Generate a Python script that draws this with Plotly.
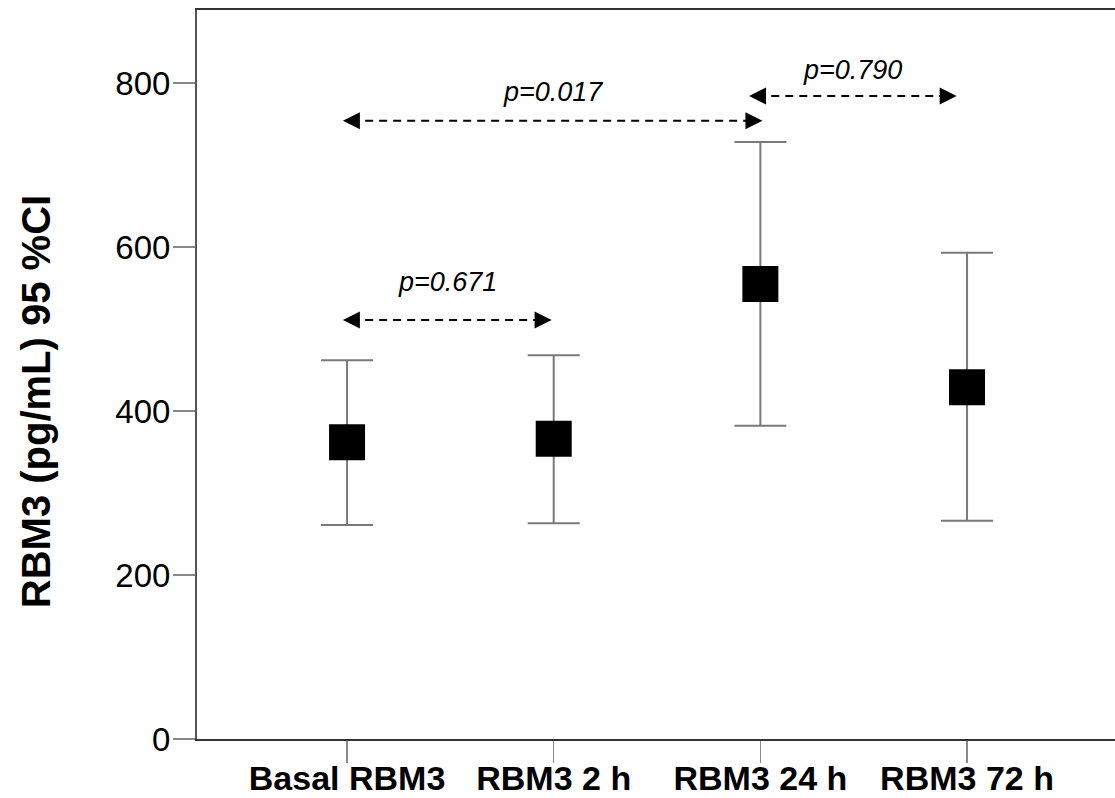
import plotly.graph_objects as go

# ---- data ----
categories = ["Basal RBM3", "RBM3 2 h", "RBM3 24 h", "RBM3 72 h"]
means = [362, 366, 555, 429]
ci_upper = [462, 468, 728, 593]
ci_lower = [261, 263, 382, 266]

# pairwise comparisons (category positions of arrow tips, level, label)
cmp_from = [-0.02, -0.02, 1.945]
cmp_to = [0.99, 2.01, 2.95]
cmp_level = [511, 754, 784]
cmp_label_level = [557, 789, 816]
cmp_labels = ["p=0.671", "p=0.017", "p=0.790"]

y_ticks = [0, 200, 400, 600, 800]

xpos = list(range(len(categories)))
err_plus = [u - m for u, m in zip(ci_upper, means)]
err_minus = [m - l for m, l in zip(means, ci_lower)]

FONT = "Liberation Sans, Arial, Helvetica, sans-serif"

fig = go.Figure()

fig.add_trace(go.Scatter(
    x=xpos, y=means, mode="markers",
    marker=dict(symbol="square", size=36, color="black", line=dict(width=0)),
    error_y=dict(type="data", symmetric=False, array=err_plus, arrayminus=err_minus,
                 color="#7a7a7a", thickness=2, width=26),
    showlegend=False, hoverinfo="skip",
))

annotations = []
for x0, x1, lvl, ly, lab in zip(cmp_from, cmp_to, cmp_level, cmp_label_level, cmp_labels):
    fig.add_trace(go.Scatter(
        x=[x0 + 0.04, x1 - 0.04], y=[lvl, lvl], mode="lines",
        line=dict(color="black", width=2, dash="8px,6px"),
        showlegend=False, hoverinfo="skip",
    ))
    for tip, off in ((x0, 13), (x1, -13)):
        annotations.append(dict(
            x=tip, y=lvl, xref="x", yref="y", ax=off, ay=0,
            showarrow=True, arrowhead=2, arrowsize=1.7, arrowwidth=2,
            arrowcolor="black", text="",
        ))
    annotations.append(dict(
        x=(x0 + x1) / 2, y=ly, xref="x", yref="y", showarrow=False,
        text="<i>" + lab + "</i>",
        font=dict(family=FONT, size=27, color="black"),
    ))

# y-axis title as a rotated annotation (placed like the reference)
annotations.append(dict(
    x=0, y=0.462, xref="paper", yref="paper", xanchor="center", yanchor="middle",
    xshift=-161, showarrow=False, textangle=-90,
    text="<b>RBM3 (pg/mL) 95 %CI</b>",
    font=dict(family=FONT, size=40, color="black"),
))

fig.update_layout(
    width=1115, height=798,
    margin=dict(l=197, r=0, t=10, b=59, autoexpand=False),
    paper_bgcolor="white", plot_bgcolor="white",
    annotations=annotations,
    font=dict(family=FONT, color="black"),
)

fig.update_xaxes(
    range=[-0.726, 3.716],
    tickmode="array", tickvals=xpos,
    ticktext=["<b>" + c + "</b>" for c in categories],
    tickfont=dict(size=34, color="black"),
    ticks="outside", ticklen=22, tickwidth=1.5, tickcolor="#8a8a8a",
    ticklabelstandoff=-14,
    showline=True, linecolor="#333333", linewidth=2, mirror=True,
    showgrid=False, zeroline=False, automargin=False,
)
fig.update_yaxes(
    range=[0, 889],
    tickvals=y_ticks,
    tickfont=dict(size=33, color="black"),
    ticks="outside", ticklen=22, tickwidth=1.5, tickcolor="#8a8a8a",
    ticklabelstandoff=-4,
    showline=True, linecolor="#555555", linewidth=2, mirror=False,
    showgrid=False, zeroline=False, automargin=False,
)

fig.write_html(
    "out.html",
    config={"displayModeBar": False, "staticPlot": True},
    post_script="document.body.style.margin='0';document.body.style.overflow='hidden';",
)
